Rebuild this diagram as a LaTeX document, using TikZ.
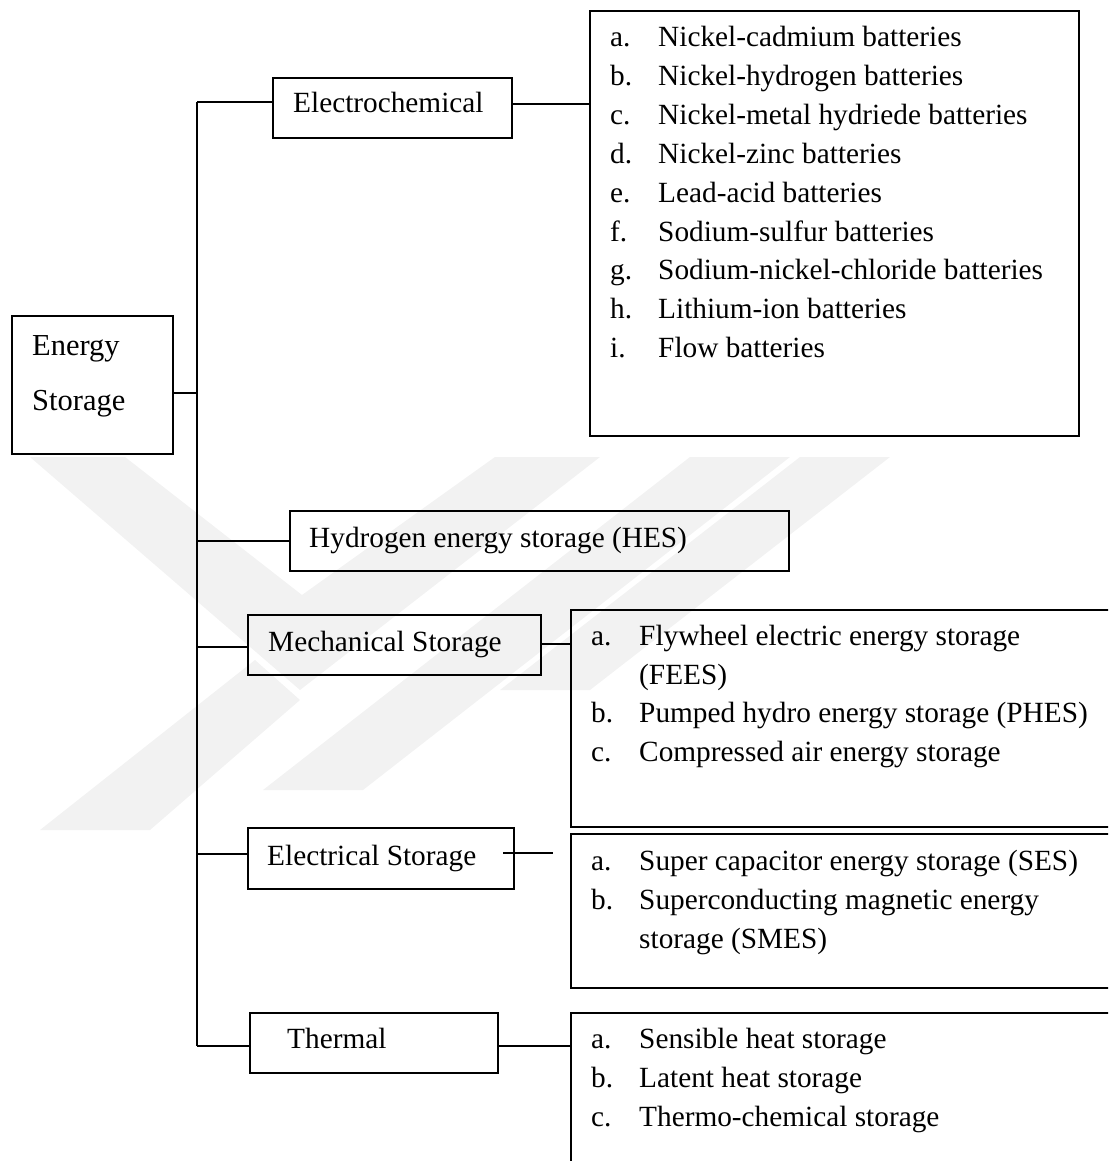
\documentclass[tikz,border=0pt]{standalone}
\usepackage{fontspec}
\setmainfont{Liberation Serif}
\begin{document}
\begin{tikzpicture}[x=1pt,y=-1pt,
  box/.style={draw,line width=1.8pt,rectangle,inner sep=0pt,anchor=north west},
  conn/.style={line width=1.8pt},
  lbl/.style={anchor=base west,inner sep=0pt,font=\fontsize{29.3}{36}\selectfont},
  big/.style={anchor=base west,inner sep=0pt,font=\fontsize{30.5}{36}\selectfont},
  wm/.style={fill=black!5,draw=none}]
\useasboundingbox (0,0) rectangle (1108,1161);
\clip (0,0) rectangle (1108,1161);
% watermark
\fill[wm] (30,457) -- (125,457) -- (302,595) -- (495,457) -- (600,457) -- (300,690) -- cycle;
\fill[wm] (690,457) -- (790,457) -- (363,790) -- (263,790) -- cycle;
\fill[wm] (800,457) -- (890,457) -- (590,690) -- (500,690) -- cycle;
\fill[wm] (40,830) -- (150,830) -- (300,700) -- (255,660) -- cycle;
% boxes
\node[box,minimum width=161,minimum height=138] (ES) at (11,315) {};
\node[box,minimum width=239,minimum height=60] (EC) at (272,77) {};
\node[box,minimum width=489,minimum height=425] (BAT) at (589,10) {};
\node[box,minimum width=499,minimum height=60] (HES) at (289,510) {};
\node[box,minimum width=293,minimum height=60] (MECH) at (247,614) {};
\node[box,minimum width=560,minimum height=217] (MECHL) at (570,609) {};
\node[box,minimum width=266,minimum height=61] (ELEC) at (247,827) {};
\node[box,minimum width=560,minimum height=154] (ELECL) at (570,833) {};
\node[box,minimum width=248,minimum height=60] (TH) at (249,1012) {};
\node[box,minimum width=560,minimum height=200] (THL) at (570,1012) {};
% trunk and connectors
\coordinate (t1) at (197,102);
\coordinate (tes) at (197,393);
\coordinate (t2) at (197,541);
\coordinate (t3) at (197,647);
\coordinate (t4) at (197,854);
\coordinate (t5) at (197,1046);
\draw[conn] (t1) -- (t5);
\draw[conn] (t1) -- (t1 -| EC.west);
\draw[conn] (tes -| ES.east) -- (tes);
\draw[conn] (t2) -- (t2 -| HES.west);
\draw[conn] (t3) -- (t3 -| MECH.west);
\draw[conn] (t4) -- (t4 -| ELEC.west);
\draw[conn] (t5) -- (t5 -| TH.west);
\coordinate (r1) at (0,104);
\draw[conn] (r1 -| EC.east) -- (r1 -| BAT.west);
\coordinate (r3) at (0,644);
\draw[conn] (r3 -| MECH.east) -- (r3 -| MECHL.west);
\coordinate (e1) at (503,853);
\coordinate (e2) at (553,853);
\draw[conn] (e1) -- (e2);
\coordinate (r5) at (0,1046);
\draw[conn] (r5 -| TH.east) -- (r5 -| THL.west);
% box labels
\node[big] (esa) at (32,355) {Energy};
\node[big] (esb) at (32,410) {Storage};
\node[lbl] (ect) at (293,113) {Electrochemical};
\node[lbl] (hest) at (309,547) {Hydrogen energy storage (HES)};
\node[lbl] (mecht) at (268,651) {Mechanical Storage};
\node[lbl] (elect) at (267,865) {Electrical Storage};
\node[lbl] (tht) at (287,1048) {Thermal};
% battery list
\foreach \l/\t [count=\i from 0] in {a./Nickel-cadmium batteries,b./Nickel-hydrogen batteries,c./Nickel-metal hydriede batteries,d./Nickel-zinc batteries,e./Lead-acid batteries,f./Sodium-sulfur batteries,g./Sodium-nickel-chloride batteries,h./Lithium-ion batteries,i./Flow batteries}{
  \node[lbl] (bl\i) at (610,47+38.8*\i) {\l};
  \node[lbl] (bt\i) at (658,47+38.8*\i) {\t};
}
% mechanical list
\node[lbl] (ml1) at (591,645) {a.};
\node[lbl] (mt1) at (639,645) {Flywheel electric energy storage};
\node[lbl] (mt1b) at (639,684) {(FEES)};
\node[lbl] (ml2) at (591,722) {b.};
\node[lbl] (mt2) at (639,722) {Pumped hydro energy storage (PHES)};
\node[lbl] (ml3) at (591,761) {c.};
\node[lbl] (mt3) at (639,761) {Compressed air energy storage};
% electrical list
\node[lbl] (el1) at (591,870) {a.};
\node[lbl] (et1) at (639,870) {Super capacitor energy storage (SES)};
\node[lbl] (el2) at (591,909) {b.};
\node[lbl] (et2) at (639,909) {Superconducting magnetic energy};
\node[lbl] (et2b) at (639,948) {storage (SMES)};
% thermal list
\node[lbl] (tl1) at (591,1048) {a.};
\node[lbl] (tt1) at (639,1048) {Sensible heat storage};
\node[lbl] (tl2) at (591,1087) {b.};
\node[lbl] (tt2) at (639,1087) {Latent heat storage};
\node[lbl] (tl3) at (591,1126) {c.};
\node[lbl] (tt3) at (639,1126) {Thermo-chemical storage};
\end{tikzpicture}
\end{document}
